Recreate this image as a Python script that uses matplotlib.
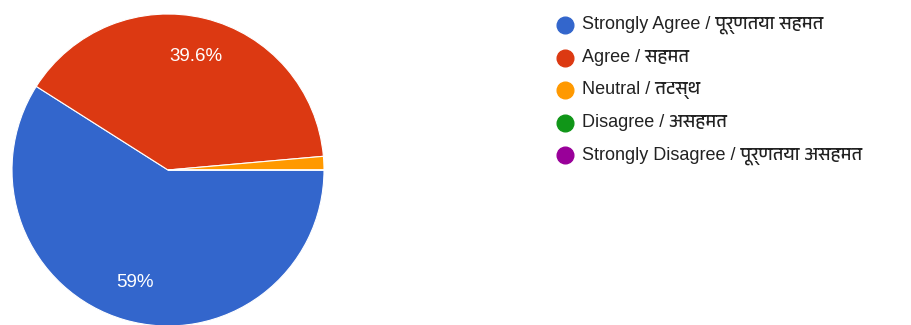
import matplotlib
matplotlib.use("Agg")
import numpy as np
import matplotlib.pyplot as plt
from matplotlib import font_manager

# data
labels = ["Strongly Agree / पूर्णतया सहमत", "Agree / सहमत", "Neutral / तटस्थ",
          "Disagree / असहमत", "Strongly Disagree / पूर्णतया असहमत"]
values = [59.0, 39.6, 1.4, 0.0, 0.0]
colors = ["#3366cc", "#dc3912", "#ff9900", "#109618", "#990099"]

# look for a font that has Devanagari glyphs
deva = [f.name for f in font_manager.fontManager.ttflist
        if "devanagari" in f.name.lower() or "lohit" in f.name.lower()]
families = ["Arial", "Liberation Sans"] + sorted(set(deva)) + ["Noto Sans", "DejaVu Sans"]
plt.rcParams["font.family"] = families

fig = plt.figure(figsize=(9.11, 3.25), dpi=100)
ax = fig.add_axes([0, 0, 1, 1])

cx, cy, rad = 168, 155, 156
wedges, _ = ax.pie(values, colors=colors, startangle=0, counterclock=False,
                   center=(cx, cy), radius=rad, frame=True,
                   wedgeprops=dict(edgecolor="white", linewidth=0.8))
ax.set_xlim(0, 911)
ax.set_ylim(0, 325)
ax.set_aspect("equal")
ax.axis("off")

# percentage labels (only on big slices)
for v, w in zip(values, wedges):
    if v > 5:
        mid = np.deg2rad((w.theta1 + w.theta2) / 2)
        r = rad * 0.75
        txt = ("%.1f%%" % v).replace(".0%", "%")
        ax.text(cx + r * np.cos(mid), cy + r * np.sin(mid), txt, color="white",
                fontsize=13.5, ha="center", va="center")

# legend
for i, (lab, c) in enumerate(zip(labels, colors)):
    y = 300 - i * 32.6
    ax.plot(565, y, "o", color=c, markersize=12)
    ax.text(582, y, lab, fontsize=13, color="#222222", va="center", ha="left")

fig.savefig("out.png", dpi=100)
